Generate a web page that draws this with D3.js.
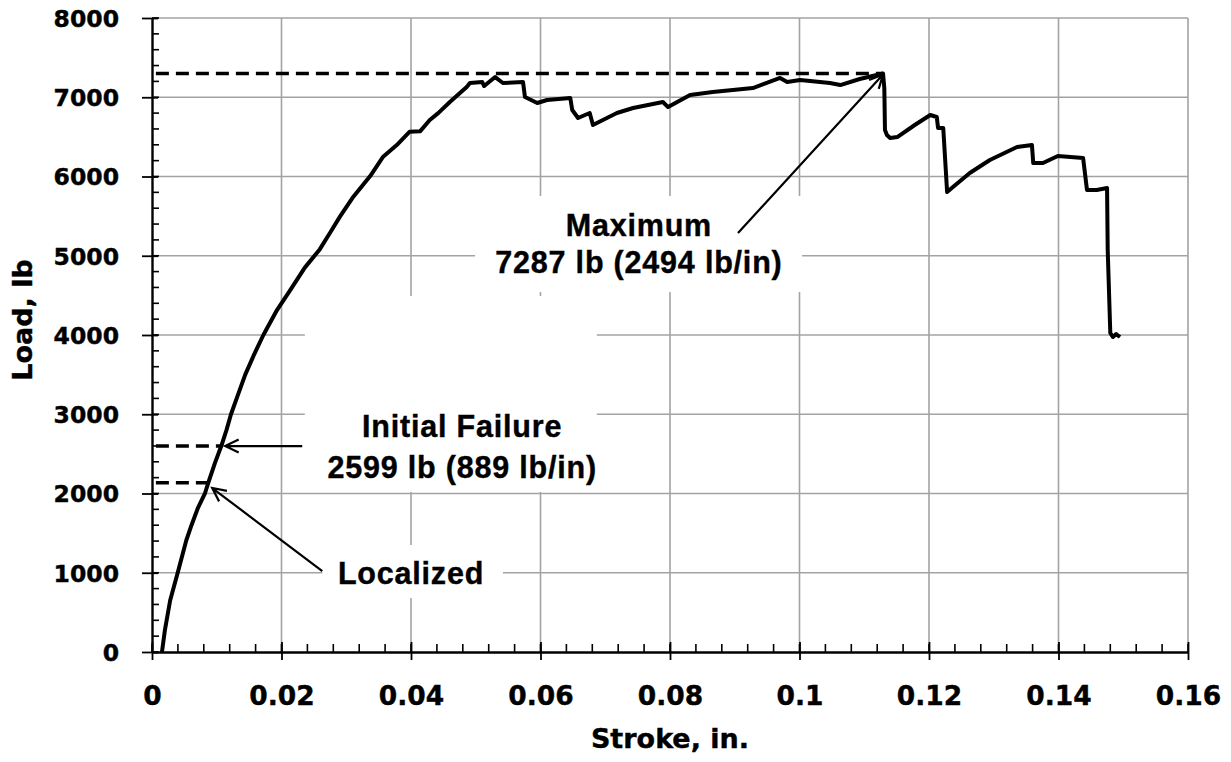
<!DOCTYPE html>
<html>
<head>
<meta charset="utf-8">
<script src="https://cdn.jsdelivr.net/npm/d3@7"></script>
<style>
  body { margin: 0; background: #fff; }
  .tick text { font-family: "DejaVu Sans", sans-serif; font-weight: bold; fill: #000; stroke: #000; stroke-width: 0.4px; }
  .note { font-family: "Liberation Sans", Arial, sans-serif; font-weight: bold; font-size: 30.5px; letter-spacing: 0.8px; stroke: #000; stroke-width: 0.4px; }
</style>
</head>
<body>
<script>
// stroke (in.) and load (lb)
var stroke = [0.00154, 0.0020, 0.0028, 0.0040, 0.0053, 0.0061, 0.0071, 0.0082, 0.0087, 0.0097, 0.0107, 0.0115, 0.0122,
  0.0133, 0.0144, 0.0158, 0.0172, 0.0192, 0.0213, 0.0236, 0.0259, 0.0275, 0.0290, 0.0311, 0.0337, 0.0357, 0.0378,
  0.0398, 0.0414, 0.0429, 0.0442, 0.0460, 0.0486, 0.0491, 0.0510, 0.0513, 0.0530, 0.0542, 0.0573, 0.0576, 0.0595,
  0.0610, 0.0646, 0.0649, 0.0658, 0.0676, 0.0681, 0.0718, 0.0743, 0.0789, 0.0797, 0.0831, 0.0866, 0.0928, 0.0970,
  0.0981, 0.1001, 0.1047, 0.1063, 0.1093, 0.1129, 0.1131, 0.1132, 0.1135, 0.1140, 0.1151, 0.1178, 0.1202, 0.1212,
  0.1214, 0.1222, 0.1228, 0.1237, 0.1263, 0.1294, 0.1336, 0.1359, 0.1361, 0.1376, 0.1399, 0.1438, 0.1444, 0.1459,
  0.1475, 0.1476, 0.1480, 0.1484, 0.1489, 0.1495];
var load = [0, 280, 650, 1010, 1410, 1600, 1820, 2006, 2136, 2380, 2599, 2800, 3000,
  3250, 3500, 3760, 4000, 4300, 4560, 4850, 5080, 5290, 5490, 5745, 6006, 6250, 6397,
  6565, 6570, 6713, 6800, 6940, 7129, 7180, 7192, 7142, 7255, 7180, 7192, 7003, 6927,
  6965, 6990, 6839, 6738, 6801, 6650, 6801, 6864, 6940, 6876, 7028, 7066, 7116, 7243,
  7192, 7217, 7180, 7154, 7230, 7300, 7116, 6587, 6524, 6486, 6498, 6650, 6776, 6751,
  6612, 6612, 5804, 5867, 6044, 6208, 6372, 6397, 6170, 6170, 6258, 6233, 5829, 5829,
  5855, 5072, 4025, 3975, 4012, 3975];

var xTicks = [0, 0.02, 0.04, 0.06, 0.08, 0.1, 0.12, 0.14, 0.16];
var yTicks = [0, 1000, 2000, 3000, 4000, 5000, 6000, 7000, 8000];

// dashed reference levels: [load, stroke where it meets the curve]
var dashLevels = [[7300, 0.1129], [2599, 0.0107], [2136, 0.0087]];

// annotation text lines
var maxText = ["Maximum", "7287 lb (2494 lb/in)"];
var initText = ["Initial Failure", "2599 lb (889 lb/in)"];
var locText = ["Localized"];

var margin = {top: 18, right: 43, bottom: 110, left: 152},
    width = 1231 - margin.left - margin.right,
    height = 762 - margin.top - margin.bottom;

var x = d3.scaleLinear().domain([0, 0.16]).range([0, width]);
var y = d3.scaleLinear().domain([0, 8000]).range([height, 0]);

var svg = d3.select("body").append("svg")
    .attr("width", 1231)
    .attr("height", 762)
  .append("g")
    .attr("transform", "translate(" + margin.left + "," + margin.top + ")");

// grid
svg.append("g").selectAll("line").data(yTicks.slice(1)).enter().append("line")
    .attr("x1", 0).attr("x2", width)
    .attr("y1", function(d) { return y(d); }).attr("y2", function(d) { return y(d); })
    .attr("stroke", "#a3a3a3").attr("stroke-width", 1.6);
svg.append("g").selectAll("line").data(xTicks.slice(1)).enter().append("line")
    .attr("y1", 0).attr("y2", height)
    .attr("x1", function(d) { return x(d); }).attr("x2", function(d) { return x(d); })
    .attr("stroke", "#a3a3a3").attr("stroke-width", 1.6);

// white text boxes that hide the grid, [x0, x1, yTop, yBottom] in data units
var boxes = [[0.0499, 0.1004, 5754, 4542], [0.0236, 0.0687, 4492, 2019], [0.0263, 0.0542, 1350, 681]];
svg.append("g").selectAll("rect").data(boxes).enter().append("rect")
    .attr("x", function(d) { return x(d[0]); })
    .attr("width", function(d) { return x(d[1]) - x(d[0]); })
    .attr("y", function(d) { return y(d[2]); })
    .attr("height", function(d) { return y(d[3]) - y(d[2]); })
    .attr("fill", "#fff");

// minor ticks
var minorX = d3.range(0, 0.1601, 0.004);
var minorY = d3.range(0, 8001, 200);
svg.append("g").selectAll("line").data(minorX).enter().append("line")
    .attr("x1", function(d) { return x(d); }).attr("x2", function(d) { return x(d); })
    .attr("y1", height).attr("y2", height - 8)
    .attr("stroke", "#000").attr("stroke-width", 1.6);
svg.append("g").selectAll("line").data(minorY).enter().append("line")
    .attr("y1", function(d) { return y(d); }).attr("y2", function(d) { return y(d); })
    .attr("x1", 0).attr("x2", 7)
    .attr("stroke", "#000").attr("stroke-width", 1.6);

// axes
var xAxis = svg.append("g")
    .attr("transform", "translate(0," + height + ")")
    .call(d3.axisBottom(x).tickValues(xTicks).tickSizeInner(-10).tickSizeOuter(0)
      .tickFormat(function(d) { return d === 0 ? "0" : String(+d.toFixed(2)); }));
xAxis.selectAll(".tick line").attr("y1", 8);
xAxis.selectAll(".tick text").attr("y", 53).attr("dy", 0).style("font-size", "26.5px");

var yAxis = svg.append("g")
    .call(d3.axisLeft(y).tickValues(yTicks).tickSizeInner(10).tickSizeOuter(0).tickFormat(d3.format("d")));
yAxis.selectAll(".tick line").attr("x2", -10).attr("x1", 6);
yAxis.selectAll(".tick text").attr("x", -33).attr("dy", "0.36em").style("font-size", "23.5px");

svg.selectAll(".domain").attr("stroke", "#000").attr("stroke-width", 2.4);
svg.selectAll(".tick line").attr("stroke", "#000").attr("stroke-width", 1.8);

// axis titles
svg.append("text")
    .attr("x", width / 2)
    .attr("y", height + 96)
    .attr("text-anchor", "middle")
    .style("font-family", "DejaVu Sans, sans-serif")
    .style("font-weight", "bold")
    .style("font-size", "27px")
    .style("stroke", "#000").style("stroke-width", "0.4px")
    .text("Stroke, in.");
svg.append("text")
    .attr("transform", "rotate(-90)")
    .attr("x", -302)
    .attr("y", -120)
    .attr("text-anchor", "middle")
    .style("font-family", "DejaVu Sans, sans-serif")
    .style("font-weight", "bold")
    .style("font-size", "27px")
    .style("stroke", "#000").style("stroke-width", "0.4px")
    .text("Load, lb");

// dashed levels
svg.append("g").selectAll("line").data(dashLevels).enter().append("line")
    .attr("x1", x(0.0006))
    .attr("x2", function(d) { return x(d[1]); })
    .attr("y1", function(d) { return y(d[0]); })
    .attr("y2", function(d) { return y(d[0]); })
    .attr("stroke", "#000").attr("stroke-width", 3.5)
    .attr("stroke-dasharray", "13,7");

// the curve
var valueline = d3.line()
    .x(function(d, i) { return x(stroke[i]); })
    .y(function(d) { return y(d); });
svg.append("path")
    .datum(load)
    .attr("d", valueline)
    .attr("fill", "none")
    .attr("stroke", "#000")
    .attr("stroke-width", 4)
    .attr("stroke-linejoin", "round");

// arrows: [tailX, tailY, tipX, tipY]
var arrows = [[0.0905, 5287, 0.1129, 7287], [0.0232, 2599, 0.0113, 2599], [0.0263, 1022, 0.0093, 2069]];
arrows.forEach(function(a) {
  var x1 = x(a[0]), y1 = y(a[1]), x2 = x(a[2]), y2 = y(a[3]);
  var ang = Math.atan2(y2 - y1, x2 - x1), L = 15, s = 0.45;
  var p = "M" + x1 + "," + y1 + "L" + x2 + "," + y2 +
    "M" + (x2 - L * Math.cos(ang - s)) + "," + (y2 - L * Math.sin(ang - s)) +
    "L" + x2 + "," + y2 +
    "L" + (x2 - L * Math.cos(ang + s)) + "," + (y2 - L * Math.sin(ang + s));
  svg.append("path").attr("d", p).attr("fill", "none")
    .attr("stroke", "#000").attr("stroke-width", 2.2);
});

// annotation text: [lines, centre x, first baseline load, line step in load]
var notes = [[maxText, 0.0752, 5245, 463], [initText, 0.0479, 2717, 521], [locText, 0.0400, 858, 0]];
notes.forEach(function(n) {
  n[0].forEach(function(t, i) {
    svg.append("text").attr("class", "note")
      .attr("x", x(n[1]))
      .attr("y", y(n[2] - i * n[3]))
      .attr("text-anchor", "middle")
      .text(t);
  });
});
</script>
</body>
</html>
